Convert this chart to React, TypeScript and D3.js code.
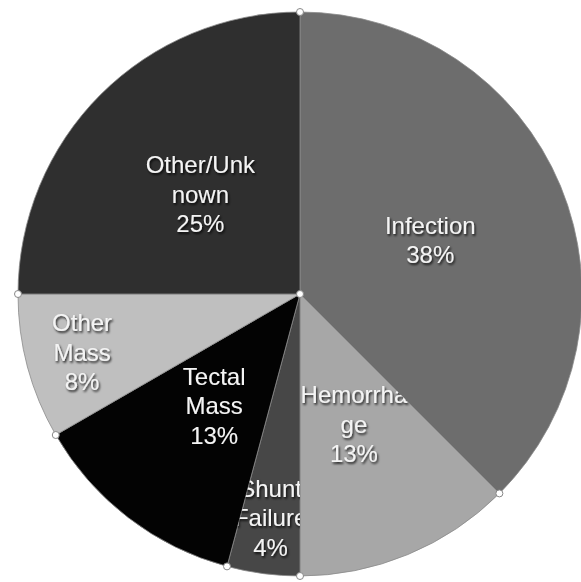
import React, { useEffect, useRef } from 'react';
import { arc, pie, select, sum } from 'd3';

const WIDTH = 581;
const HEIGHT = 582;
const CX = 300;
const CY = 294;
const RADIUS = 282;

// counts behind the rounded percentages
const categories = ['Infection', 'Hemorrhage', 'Shunt Failure', 'Tectal Mass', 'Other Mass', 'Other/Unknown'];
const counts = [9, 3, 1, 3, 2, 6];
const percentLabels = ['38%', '13%', '4%', '13%', '8%', '25%'];
// the label lines as they wrap in the original
const labelLines = [
  ['Infection'],
  ['Hemorrha', 'ge'],
  ['Shunt', 'Failure'],
  ['Tectal', 'Mass'],
  ['Other', 'Mass'],
  ['Other/Unk', 'nown'],
];
const colors = ['#6d6d6d', '#a7a7a7', '#474747', '#030303', '#bfbfbf', '#2f2f2f'];

const App = (): JSX.Element => {
  const ref = useRef<SVGSVGElement>(null);

  useEffect(() => {
    if (ref.current === null) return;
    ref.current.replaceChildren();

    const data = categories.map((c, i) => ({ category: c, count: counts[i], i }));
    const total = sum(counts);

    const arcs = pie<(typeof data)[number]>()
      .value((d) => d.count)
      .sort(null)(data);

    const slice = arc<any>().innerRadius(0).outerRadius(RADIUS);

    const svg = select(ref.current)
      .attr('width', WIDTH)
      .attr('height', HEIGHT)
      .attr('viewBox', [0, 0, WIDTH, HEIGHT])
      .style('position', 'absolute')
      .style('left', 0)
      .style('top', 0)
      .style('background', '#fff');

    const defs = svg.append('defs');
    const filter = defs.append('filter').attr('id', 'shadow').attr('x', '-20%').attr('y', '-20%').attr('width', '140%').attr('height', '140%');
    filter
      .append('feDropShadow')
      .attr('dx', 1.2)
      .attr('dy', 1.8)
      .attr('stdDeviation', 1)
      .attr('flood-color', '#000')
      .attr('flood-opacity', 0.85);

    defs
      .selectAll('clipPath')
      .data(arcs)
      .join('clipPath')
      .attr('id', (d) => `clip-${d.index}`)
      .append('path')
      .attr('d', slice);

    const g = svg.append('g').attr('transform', `translate(${CX},${CY})`);

    g.selectAll('path.slice')
      .data(arcs)
      .join('path')
      .attr('class', 'slice')
      .attr('d', slice)
      .attr('fill', (d) => colors[d.index])
      .attr('stroke', '#8a8a8a')
      .attr('stroke-width', 0.8);

    // Labels, clipped to their own slice
    const labelArc = arc<any>().innerRadius(0).outerRadius(RADIUS);
    const labels = g
      .selectAll('g.label')
      .data(arcs)
      .join('g')
      .attr('class', 'label')
      .attr('clip-path', (d) => `url(#clip-${d.index})`);

    labels.each(function (d) {
      const share = d.data.count / total;
      const r = share < 0.1 ? RADIUS * 0.8 : RADIUS * 0.5;
      const a = (d.startAngle + d.endAngle) / 2;
      const x = Math.sin(a) * r;
      const y = -Math.cos(a) * r;
      const lines = [...labelLines[d.index], percentLabels[d.index]];
      const lh = 29.5;
      const y0 = y - ((lines.length - 1) * lh) / 2;
      select(this)
        .append('text')
        .attr('text-anchor', 'middle')
        .attr('font-family', '"Liberation Sans", Arial, sans-serif')
        .attr('font-size', 24)
        .attr('fill', '#f4f4f4')
        .attr('filter', 'url(#shadow)')
        .selectAll('tspan')
        .data(lines)
        .join('tspan')
        .attr('x', x)
        .attr('y', (_, k) => y0 + k * lh)
        .attr('dy', '0.35em')
        .text((t) => t);
    });
    void labelArc;

    // Selection handles at the slice boundaries
    const handlePts = arcs.map((d) => [Math.sin(d.startAngle) * RADIUS, -Math.cos(d.startAngle) * RADIUS]);
    handlePts.push([0, 0]);
    g.selectAll('circle.handle')
      .data(handlePts)
      .join('circle')
      .attr('class', 'handle')
      .attr('cx', (p) => p[0])
      .attr('cy', (p) => p[1])
      .attr('r', 3.5)
      .attr('fill', '#fff')
      .attr('stroke', '#888')
      .attr('stroke-width', 1);
  }, [ref]);

  return <svg ref={ref} />;
};

export default App;
